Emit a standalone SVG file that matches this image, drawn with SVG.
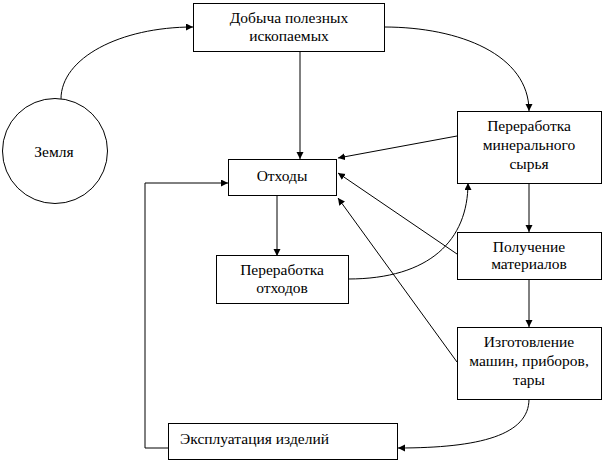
<svg xmlns="http://www.w3.org/2000/svg" width="604" height="462" viewBox="0 0 604 462">
<defs>
<marker id="ah" markerWidth="8" markerHeight="8" refX="7" refY="3.5" orient="auto" markerUnits="userSpaceOnUse">
<path d="M0,0 L7,3.5 L0,7 z" fill="#000"/>
</marker>
<style>
.box{fill:#fff;stroke:#000;stroke-width:1}
.t{font-family:"Liberation Serif","Times New Roman",serif;font-size:15.5px;fill:#000;text-anchor:middle}
.l{fill:none;stroke:#000;stroke-width:1;marker-end:url(#ah)}
.p{fill:none;stroke:#000;stroke-width:1}
</style>
</defs>
<rect width="604" height="462" fill="#fff"/>
<g id="connectors">
<path class="l" d="M61,99 C61,58 120,27 193,27"/>
<path class="l" d="M384,27 C460,27 529,55 529,111"/>
<path class="l" d="M300,51 L300,159"/>
<path class="l" d="M457,136 L338,158"/>
<path class="l" d="M457,254 L338,173"/>
<path class="l" d="M457,362 L338,198"/>
<path class="l" d="M529,183 L529,232"/>
<path class="l" d="M529,279 L529,327"/>
<path class="l" d="M277,195 L277,256"/>
<path class="l" d="M348,279 C430,279 468,240 468,183"/>
<path class="l" d="M529,399 C529,435 480,448 398,448"/>
<path class="l" d="M168,448 L145,448 L145,183 L228,183"/>
</g>
<g id="zemlya">
<circle cx="55" cy="151" r="52.5" fill="#fff" stroke="#000"/>
<text class="t" x="54" y="157">Земля</text>
</g>
<g id="dobycha">
<rect class="box" x="193.5" y="3.5" width="191" height="48"/>
<text class="t" x="289" y="23">Добыча полезных</text>
<text class="t" x="289" y="41">ископаемых</text>
</g>
<g id="othody">
<rect class="box" x="228.5" y="159.5" width="108" height="36"/>
<text class="t" x="282" y="181">Отходы</text>
</g>
<g id="pererabotka-syrya">
<rect class="box" x="457.5" y="111.5" width="144" height="72"/>
<text class="t" x="529" y="131">Переработка</text>
<text class="t" x="529" y="150">минерального</text>
<text class="t" x="529" y="169">сырья</text>
</g>
<g id="pererabotka-othodov">
<rect class="box" x="216.5" y="255.5" width="132" height="48"/>
<text class="t" x="282" y="275">Переработка</text>
<text class="t" x="282" y="293">отходов</text>
</g>
<g id="poluchenie">
<rect class="box" x="457.5" y="232.5" width="144" height="47"/>
<text class="t" x="529" y="252">Получение</text>
<text class="t" x="529" y="269">материалов</text>
</g>
<g id="izgotovlenie">
<rect class="box" x="457.5" y="327.5" width="144" height="72"/>
<text class="t" x="529" y="347">Изготовление</text>
<text class="t" x="529" y="366">машин, приборов,</text>
<text class="t" x="529" y="385">тары</text>
</g>
<g id="ekspluatatsiya">
<rect class="box" x="168.5" y="423.5" width="229" height="36"/>
<text class="t" x="180" y="444" style="text-anchor:start">Эксплуатация изделий</text>
</g>
</svg>
